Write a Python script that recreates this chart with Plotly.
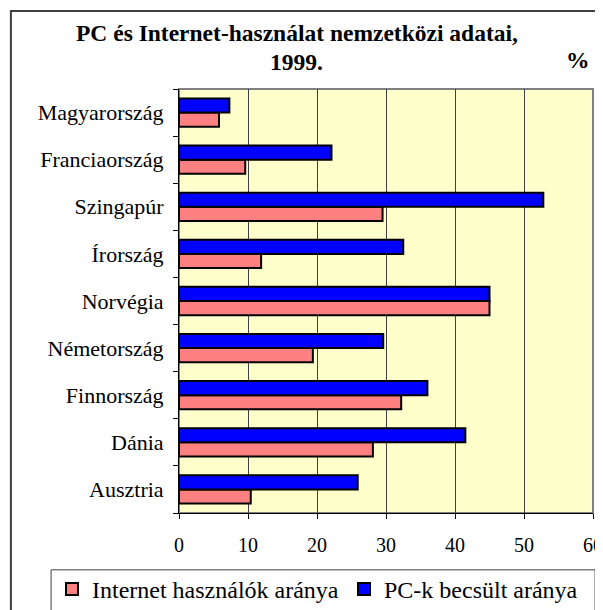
import plotly.graph_objects as go

countries = ["Ausztria", "Dánia", "Finnország", "Németország", "Norvégia",
             "Írország", "Szingapúr", "Franciaország", "Magyarország"]
internet = [10.4, 28.1, 32.2, 19.4, 45.0, 11.9, 29.5, 9.6, 5.8]
pc = [25.9, 41.5, 36.0, 29.6, 45.0, 32.5, 52.8, 22.1, 7.3]

font = "Liberation Serif, Times New Roman, serif"

fig = go.Figure()
fig.add_trace(go.Bar(
    y=countries, x=internet, orientation="h", name="Internet használók aránya",
    marker=dict(color="#FF8080", line=dict(color="black", width=2))
))
fig.add_trace(go.Bar(
    y=countries, x=pc, orientation="h", name="PC-k becsült aránya",
    marker=dict(color="#0000FF", line=dict(color="black", width=2))
))

# page body has an 8px margin, so the figure is drawn 8px smaller/offset
fig.update_layout(
    width=595, height=602,
    margin=dict(l=171, r=10, t=81, b=97, autoexpand=False),
    paper_bgcolor="white",
    plot_bgcolor="#FFFFCC",
    barmode="group",
    bargap=0.4,
    bargroupgap=0,
    font=dict(family=font, size=22, color="black"),
    showlegend=True,
    legend=dict(
        orientation="h", x=-0.3068, y=-0.127, xanchor="left", yanchor="top",
        bgcolor="rgba(0,0,0,0)", borderwidth=0, entrywidth=247,
        font=dict(family=font, size=24), traceorder="normal"
    ),
    xaxis=dict(
        range=[0, 60], dtick=10, showgrid=True, gridcolor="#404040", gridwidth=1,
        ticks="outside", ticklen=5, tickcolor="black", showline=True,
        linecolor="black", linewidth=1, zeroline=False, ticklabelstandoff=9,
        ticklabeloverflow="allow", tickfont=dict(size=20), fixedrange=True
    ),
    yaxis=dict(
        type="category", showgrid=False, ticks="outside", ticklen=5,
        tickcolor="black", tickson="boundaries", showline=True,
        linecolor="black", linewidth=1, ticklabelstandoff=10, fixedrange=True
    ),
    shapes=[
        # plot area frame
        dict(type="rect", xref="paper", yref="paper", x0=0, x1=1, y0=0, y1=1,
             line=dict(color="#808080", width=2), layer="below"),
        # outer chart border
        dict(type="rect", xref="paper", yref="paper", x0=-0.406, x1=1.1,
             y0=-0.4, y1=1.184, line=dict(color="#404040", width=2)),
        # legend box
        dict(type="rect", xref="paper", yref="paper", x0=-0.309, x1=1.005,
             y0=-0.4, y1=-0.134, line=dict(color="#404040", width=1)),
    ],
    annotations=[
        dict(text="<b>PC és Internet-használat nemzetközi adatai,</b>",
             xref="paper", yref="paper", x=0.285, y=1.132, showarrow=False,
             xanchor="center", yanchor="middle", font=dict(size=23.5)),
        dict(text="<b>1999.</b>", xref="paper", yref="paper", x=0.285, y=1.064,
             showarrow=False, xanchor="center", yanchor="middle", font=dict(size=23.5)),
        dict(text="<b>%</b>", xref="paper", yref="paper", x=0.964, y=1.068,
             showarrow=False, xanchor="center", yanchor="middle", font=dict(size=23.5)),
    ],
)

fig.write_html("out.html")
